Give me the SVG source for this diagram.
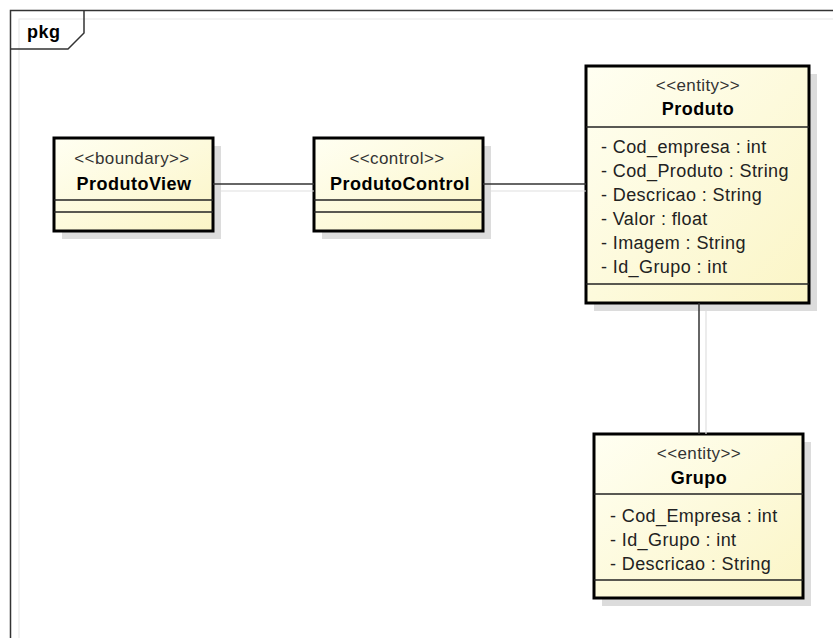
<svg xmlns="http://www.w3.org/2000/svg" width="833" height="638" viewBox="0 0 833 638">
<defs>
<linearGradient id="fill" x1="0" y1="0" x2="1" y2="1">
<stop offset="0" stop-color="#FFFFF2"/>
<stop offset="1" stop-color="#FBF5C6"/>
</linearGradient>
</defs>
<style>
.frame{fill:none;stroke:#333;stroke-width:1.5}
.inner{fill:none;stroke:#e6e6e6;stroke-width:1}
.shadow{fill:#dcdcdc;stroke:none}
.box{fill:url(#fill);stroke:#000;stroke-width:3}
.sep{stroke:#222;stroke-width:1.5}
.conn{stroke:#333;stroke-width:1.5;fill:none}
.connsh{stroke:#e0e0e0;stroke-width:1.2;fill:none}
.st{font-family:"Liberation Sans",Arial,sans-serif;font-size:17px;fill:#333;letter-spacing:0.4px;text-anchor:middle}
.nm{font-family:"Liberation Sans",Arial,sans-serif;font-size:18px;font-weight:bold;fill:#000;letter-spacing:0.5px;text-anchor:middle}
.at{font-family:"Liberation Sans",Arial,sans-serif;font-size:18px;fill:#222;letter-spacing:0.4px}
.pkg{font-family:"Liberation Sans",Arial,sans-serif;font-size:18px;font-weight:bold;fill:#000;letter-spacing:0.5px}
</style>
<rect width="833" height="638" fill="#fff"/>
<g id="frame">
<rect class="inner" x="19" y="19" width="830" height="630"/>
<rect class="frame" x="10.5" y="10.5" width="840" height="640"/>
<path class="frame" d="M10.5,49 H68 L84,33 V10.5"/>
<text class="pkg" x="27" y="38">pkg</text>
</g>
<g id="ProdutoView">
<rect class="shadow" x="62" y="146" width="159" height="93"/>
<rect class="box" x="54" y="138" width="159" height="93"/>
<line class="sep" x1="54" y1="200" x2="213" y2="200"/>
<line class="sep" x1="54" y1="212" x2="213" y2="212"/>
<text class="st" x="132" y="164">&lt;&lt;boundary&gt;&gt;</text>
<text class="nm" x="134" y="190">ProdutoView</text>
</g>
<g id="ProdutoControl">
<rect class="shadow" x="322" y="146" width="169" height="93"/>
<rect class="box" x="314" y="138" width="169" height="93"/>
<line class="sep" x1="314" y1="200" x2="483" y2="200"/>
<line class="sep" x1="314" y1="212" x2="483" y2="212"/>
<text class="st" x="397" y="164">&lt;&lt;control&gt;&gt;</text>
<text class="nm" x="400" y="190">ProdutoControl</text>
</g>
<g id="Produto">
<rect class="shadow" x="594" y="74" width="223" height="237"/>
<rect class="box" x="586" y="66" width="223" height="237"/>
<line class="sep" x1="586" y1="127" x2="809" y2="127"/>
<line class="sep" x1="586" y1="284" x2="809" y2="284"/>
<text class="st" x="698" y="91">&lt;&lt;entity&gt;&gt;</text>
<text class="nm" x="698" y="115">Produto</text>
<text class="at" x="601" y="153">- Cod_empresa : int</text>
<text class="at" x="601" y="177">- Cod_Produto : String</text>
<text class="at" x="601" y="201">- Descricao : String</text>
<text class="at" x="601" y="225">- Valor : float</text>
<text class="at" x="601" y="249">- Imagem : String</text>
<text class="at" x="601" y="273">- Id_Grupo : int</text>
</g>
<g id="Grupo">
<rect class="shadow" x="602" y="442" width="209" height="164"/>
<rect class="box" x="594" y="434" width="209" height="164"/>
<line class="sep" x1="594" y1="494" x2="803" y2="494"/>
<line class="sep" x1="594" y1="580" x2="803" y2="580"/>
<text class="st" x="699" y="459">&lt;&lt;entity&gt;&gt;</text>
<text class="nm" x="699" y="484">Grupo</text>
<text class="at" x="610" y="522">- Cod_Empresa : int</text>
<text class="at" x="610" y="546">- Id_Grupo : int</text>
<text class="at" x="610" y="570">- Descricao : String</text>
</g>
<g id="connectors">
<line class="connsh" x1="221" y1="191" x2="314" y2="191"/>
<line class="connsh" x1="491" y1="191" x2="586" y2="191"/>
<line class="connsh" x1="706" y1="311" x2="706" y2="434"/>
<line class="conn" x1="213" y1="184" x2="314" y2="184"/>
<line class="conn" x1="483" y1="184" x2="586" y2="184"/>
<line class="conn" x1="699" y1="303" x2="699" y2="434"/>
</g>
</svg>
